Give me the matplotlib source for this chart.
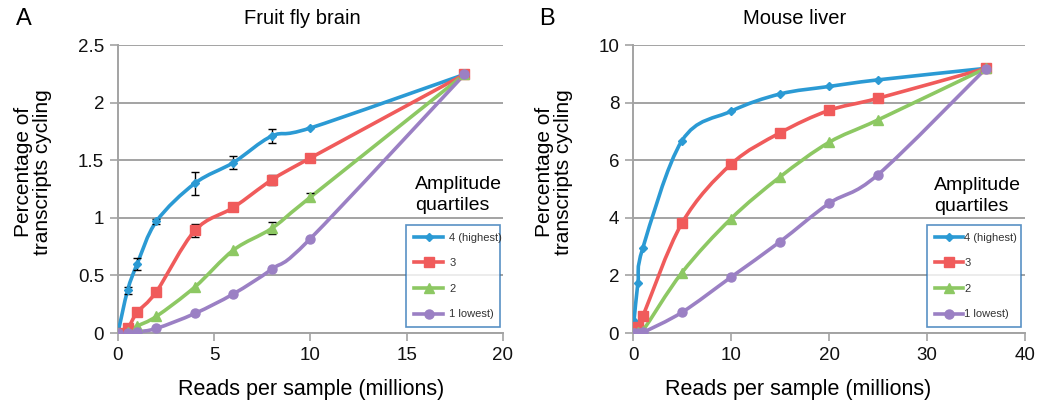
import matplotlib

matplotlib.use("Agg")
import matplotlib.pyplot as plt
import numpy as np
from matplotlib.patches import PathPatch
from matplotlib.path import Path
from matplotlib.ticker import FormatStrFormatter, FuncFormatter

plt.rcParams["font.family"] = ["Liberation Sans", "DejaVu Sans"]

LABELS = ["4 (highest)", "3", "2", "1 lowest)"]
COLORS = ["#2b9ad4", "#f05b5b", "#8dc863", "#9b80c4"]
MARKERS = ["D", "s", "^", "o"]
MSIZES = [4.5, 7, 6.5, 6.5]

# Fruit fly brain
FLY_X = [0, 0.5, 1, 2, 4, 6, 8, 10, 18]
FLY_Q4 = [0.0, 0.37, 0.60, 0.97, 1.30, 1.48, 1.71, 1.78, 2.245]
FLY_Q3 = [0.0, 0.04, 0.18, 0.36, 0.89, 1.09, 1.33, 1.52, 2.245]
FLY_Q2 = [0.0, 0.01, 0.06, 0.145, 0.40, 0.72, 0.91, 1.18, 2.245]
FLY_Q1 = [0.0, 0.0, 0.01, 0.04, 0.17, 0.34, 0.555, 0.82, 2.245]
FLY_ERR4 = [0, 0.03, 0.055, 0.02, 0.10, 0.055, 0.06, 0.0, 0]
FLY_ERR3 = [0, 0.0, 0.0, 0.0, 0.06, 0.0, 0.045, 0.0, 0]
FLY_ERR2 = [0, 0.0, 0.0, 0.0, 0.0, 0.0, 0.05, 0.035, 0]
FLY_ERR1 = [0, 0, 0, 0, 0, 0, 0, 0, 0]

# Mouse liver
LIVER_X = [0.1, 0.5, 1, 5, 10, 15, 20, 25, 36]
LIVER_Q4 = [0.42, 1.75, 2.95, 6.68, 7.70, 8.30, 8.56, 8.79, 9.19]
LIVER_Q3 = [0.1, 0.22, 0.58, 3.82, 5.86, 6.95, 7.73, 8.15, 9.19]
LIVER_Q2 = [0.0, 0.04, 0.08, 2.10, 3.97, 5.42, 6.62, 7.40, 9.19]
LIVER_Q1 = [0.0, 0.0, 0.02, 0.72, 1.94, 3.17, 4.50, 5.50, 9.18]

LEGEND_FONT = ["Liberation Sans Narrow", "Liberation Sans", "DejaVu Sans"]


def smooth_path(x, y):
    # Catmull-Rom style cubic Bezier through every point
    pts = np.column_stack([x, y]).astype(float)
    verts = [pts[0]]
    codes = [Path.MOVETO]
    n = len(pts)
    for i in range(n - 1):
        p0 = pts[max(i - 1, 0)]
        p1, p2 = pts[i], pts[i + 1]
        p3 = pts[min(i + 2, n - 1)]
        c1 = p1 + (p2 - p0) / 6.0
        c2 = p2 - (p3 - p1) / 6.0
        verts += [c1, c2, p2]
        codes += [Path.CURVE4] * 3
    return Path(verts, codes)


def panel(ax, xs, series, errs, xlim, xticks, ylim, yticks, yfmt):
    ax.set_xlim(*xlim)
    ax.set_ylim(*ylim)
    ax.set_xticks(xticks)
    ax.set_yticks(yticks)
    ax.yaxis.set_major_formatter(yfmt)
    ax.grid(axis="y", color="#a3a3a3", linewidth=1.4)
    ax.set_axisbelow(True)
    for s in ("top", "right"):
        ax.spines[s].set_visible(False)
    for s in ("left", "bottom"):
        ax.spines[s].set_color("#a3a3a3")
        ax.spines[s].set_linewidth(1.4)
    ax.tick_params(length=6, width=1.2, color="#a3a3a3", labelsize=13.5,
                   labelcolor="#111111", pad=4)
    for ys, err, c, m, ms, lab in zip(series, errs, COLORS, MARKERS, MSIZES, LABELS):
        ax.add_patch(PathPatch(smooth_path(xs, ys), fill=False, edgecolor=c,
                               linewidth=2.6, zorder=3, capstyle="round"))
        if err is not None and any(err):
            ex = [x for x, e in zip(xs, err) if e]
            ey = [y for y, e in zip(ys, err) if e]
            ee = [e for e in err if e]
            ax.errorbar(ex, ey, yerr=ee, fmt="none", ecolor="black",
                        elinewidth=1.0, capsize=3, capthick=1.0, zorder=4)
        ax.plot(xs, ys, linestyle="none", color=c, marker=m,
                markersize=ms, markeredgecolor=c, zorder=5)


fig = plt.figure(figsize=(10.42, 4.07), dpi=100)
ax1 = fig.add_axes([0.1132, 0.1818, 0.3695, 0.7076])
ax2 = fig.add_axes([0.6075, 0.1818, 0.3762, 0.7076])

panel(ax1, FLY_X, [FLY_Q4, FLY_Q3, FLY_Q2, FLY_Q1],
      [FLY_ERR4, FLY_ERR3, FLY_ERR2, FLY_ERR1],
      (0, 20), [0, 5, 10, 15, 20], (0, 2.5),
      [0, 0.5, 1, 1.5, 2, 2.5], FuncFormatter(lambda v, p: f"{v:g}"))
panel(ax2, LIVER_X, [LIVER_Q4, LIVER_Q3, LIVER_Q2, LIVER_Q1],
      [None] * 4, (0, 40), [0, 10, 20, 30, 40], (0, 10),
      [0, 2, 4, 6, 8, 10], FormatStrFormatter("%d"))

# legend boxes in axes fraction: (left, width), handle length, text pad
for ax, (lx, lw), hl, tp in ((ax1, (0.749, 0.244), 2.6, 0.55),
                             (ax2, (0.751, 0.24), 2.5, 0.1)):
    proxies = []
    for c, m, ms, lab in zip(COLORS, MARKERS, MSIZES, LABELS):
        p, = ax.plot([], [], color=c, linewidth=2.6, marker=m, markersize=ms,
                     label=lab)
        proxies.append(p)
    leg = ax.legend(handles=proxies, loc="center",
                    prop={"family": LEGEND_FONT, "size": 8},
                    bbox_to_anchor=(lx, 0.02, lw, 0.355),
                    bbox_transform=ax.transAxes, frameon=True, fancybox=False,
                    handlelength=hl, handletextpad=tp, labelspacing=1.4,
                    borderpad=0.7, numpoints=1, borderaxespad=0, mode="expand")
    leg.get_frame().set_edgecolor("#2e75b6")
    leg.get_frame().set_linewidth(1.2)
    for t in leg.get_texts():
        t.set_color("#333333")

fig.text(415 / 1042, 1 - 195 / 407, "Amplitude\nquartiles", fontsize=14,
         ha="left", va="center", linespacing=1.25)
fig.text(934 / 1042, 1 - 196 / 407, "Amplitude\nquartiles", fontsize=14,
         ha="left", va="center", linespacing=1.25)

fig.text(302 / 1042, 1 - 19 / 407, "Fruit fly brain", fontsize=14.5,
         ha="center", va="center")
fig.text(795 / 1042, 1 - 19 / 407, "Mouse liver", fontsize=14.5,
         ha="center", va="center")

fig.text(24 / 1042, 1 - 19 / 407, "A", fontsize=17, ha="center", va="center")
fig.text(547 / 1042, 1 - 19 / 407, "B", fontsize=17, ha="center", va="center")

for xc in (33, 554):
    fig.text(xc / 1042, 1 - 172 / 407, "Percentage of\ntranscripts cycling",
             fontsize=15, rotation=90, ha="center", va="center",
             linespacing=1.05)

fig.text(311 / 1042, 1 - 389 / 407, "Reads per sample (millions)",
         fontsize=15.5, ha="center", va="center")
fig.text(798 / 1042, 1 - 389 / 407, "Reads per sample (millions)",
         fontsize=15.5, ha="center", va="center")

fig.savefig("out.png", dpi=100)
